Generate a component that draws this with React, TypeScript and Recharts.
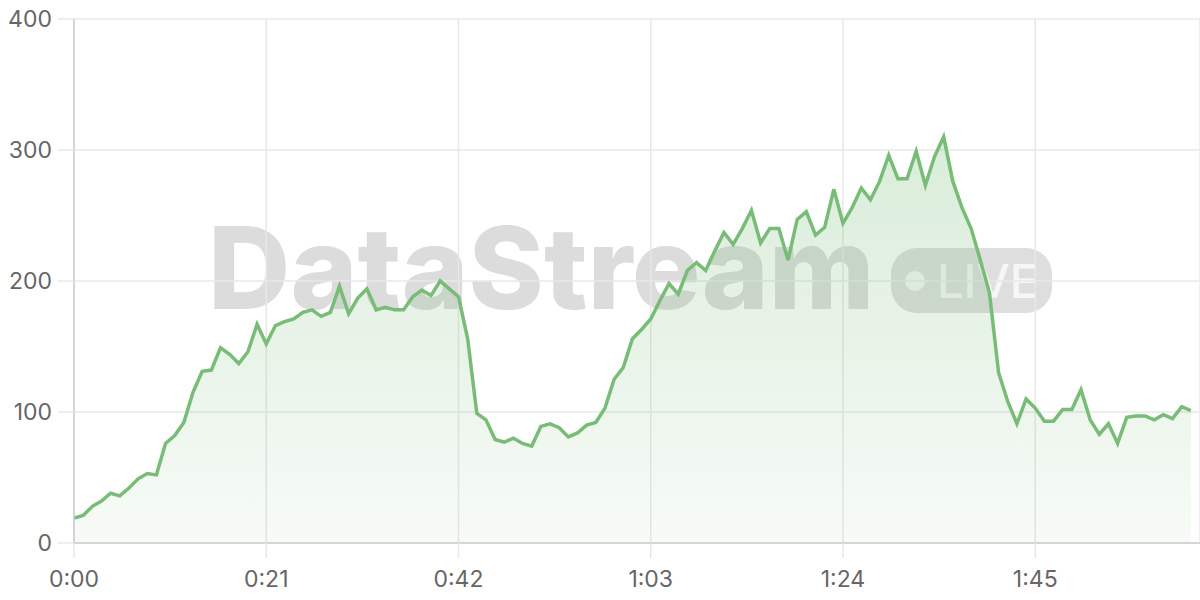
import React from 'react';
import { AreaChart, Area, XAxis, YAxis, CartesianGrid } from 'recharts';

// one sample per second
const values: number[] = [
  19, 21, 28, 32, 38, 36, 42, 49, 53, 52,
  76, 82, 92, 115, 131, 132, 149, 144, 137, 146,
  167, 152, 166, 169, 171, 176, 178, 173, 176, 196,
  175, 187, 194, 178, 180, 178, 178, 188, 193, 189,
  200, 194, 188, 156, 99, 94, 79, 77, 80, 76,
  74, 89, 91, 88, 81, 84, 90, 92, 103, 125,
  134, 156, 163, 171, 185, 198, 190, 208, 214, 208,
  223, 237, 228, 240, 254, 229, 240, 240, 216, 247,
  253, 235, 241, 270, 244, 256, 271, 262, 276, 296,
  278, 278, 299, 273, 295, 310, 276, 256, 240, 216,
  191, 130, 108, 91, 110, 103, 93, 93, 102, 102,
  117, 94, 83, 91, 76, 96, 97, 97, 94, 98,
  95, 104, 101,
];

const xTicks = [0, 21, 42, 63, 84, 105];
const yTicks = [0, 100, 200, 300, 400];

const data = values.map((v, i) => ({ t: i, value: v }));

const fmtTime = (s: number) => `${Math.floor(s / 60)}:${String(s % 60).padStart(2, '0')}`;

const GREEN = '#78bc78';
const tickStyle = { fill: '#666', fontSize: 23, fontFamily: 'Inter, sans-serif' };

const Watermark = () => (
  <div
    style={{
      position: 'absolute',
      left: 0,
      top: 0,
      width: 1200,
      height: 600,
      zIndex: 0,
      pointerEvents: 'none',
      fontFamily: 'Inter, sans-serif',
    }}
  >
    <div
      style={{
        position: 'absolute',
        left: 208,
        top: 199,
        fontSize: 114,
        fontWeight: 800,
        lineHeight: '138px',
        color: '#dcdcdc',
        letterSpacing: 0,
      }}
    >
      DataStream
    </div>
    <div
      style={{
        position: 'absolute',
        left: 891,
        top: 248,
        width: 161,
        height: 65,
        borderRadius: 26,
        background: '#dedede',
      }}
    >
      <div
        style={{
          position: 'absolute',
          left: 14,
          top: 23,
          width: 20,
          height: 20,
          borderRadius: 10,
          background: '#f6f6f6',
        }}
      />
      <div
        style={{
          position: 'absolute',
          left: 46,
          top: 6,
          fontSize: 47,
          fontWeight: 500,
          lineHeight: '54px',
          color: '#f6f6f6',
        }}
      >
        LIVE
      </div>
    </div>
  </div>
);

export default function App() {
  return (
    <div style={{ position: 'absolute', left: 0, top: 0, width: 1200, height: 600, background: '#fff' }}>
      <Watermark />
      <div style={{ position: 'absolute', left: 0, top: 0, zIndex: 1 }}>
        <AreaChart width={1200} height={600} data={data} margin={{ top: 19, right: 0, left: 0, bottom: 0 }}>
          <defs>
            <linearGradient id="fillGreen" x1="0" y1="0" x2="0" y2="1">
              <stop offset="0%" stopColor={GREEN} stopOpacity={0.28} />
              <stop offset="100%" stopColor={GREEN} stopOpacity={0.06} />
            </linearGradient>
          </defs>
          <CartesianGrid stroke="#e8e8e8" strokeWidth={1.5} />
          <XAxis
            dataKey="t"
            type="number"
            domain={[0, 123]}
            ticks={xTicks}
            tickFormatter={fmtTime}
            height={57}
            tickSize={15}
            tickMargin={13}
            tick={tickStyle}
            axisLine={{ stroke: '#cccccc', strokeWidth: 1.5 }}
            tickLine={{ stroke: '#e8e8e8', strokeWidth: 1.5 }}
          />
          <YAxis
            domain={[0, 400]}
            ticks={yTicks}
            width={74}
            tickSize={16}
            tickMargin={6}
            tick={tickStyle}
            axisLine={{ stroke: '#cccccc', strokeWidth: 1.5 }}
            tickLine={{ stroke: '#e8e8e8', strokeWidth: 1.5 }}
          />
          <Area
            type="linear"
            dataKey="value"
            stroke={GREEN}
            strokeWidth={3.5}
            fill="url(#fillGreen)"
            fillOpacity={1}
            dot={false}
            activeDot={false}
            isAnimationActive={false}
          />
        </AreaChart>
      </div>
    </div>
  );
}
